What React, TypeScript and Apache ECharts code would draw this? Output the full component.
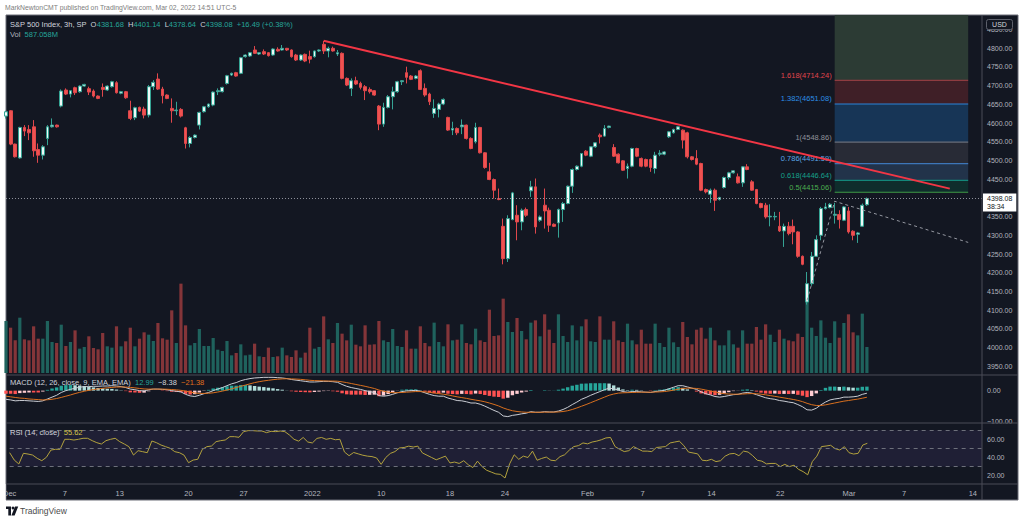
import React, { useEffect, useRef } from 'react';
import * as echarts from 'echarts';

// ---------- calendar ----------
const tradingDays = [
  '2021-12-01','2021-12-02','2021-12-03','2021-12-06','2021-12-07','2021-12-08','2021-12-09','2021-12-10',
  '2021-12-13','2021-12-14','2021-12-15','2021-12-16','2021-12-17','2021-12-20','2021-12-21','2021-12-22',
  '2021-12-23','2021-12-27','2021-12-28','2021-12-29','2021-12-30','2021-12-31',
  '2022-01-03','2022-01-04','2022-01-05','2022-01-06','2022-01-07','2022-01-10','2022-01-11','2022-01-12',
  '2022-01-13','2022-01-14','2022-01-18','2022-01-19','2022-01-20','2022-01-21','2022-01-24','2022-01-25',
  '2022-01-26','2022-01-27','2022-01-28','2022-01-31',
  '2022-02-01','2022-02-02','2022-02-03','2022-02-04','2022-02-07','2022-02-08','2022-02-09','2022-02-10',
  '2022-02-11','2022-02-14','2022-02-15','2022-02-16','2022-02-17','2022-02-18','2022-02-22','2022-02-23',
  '2022-02-24','2022-02-25','2022-02-28',
  '2022-03-01','2022-03-02','2022-03-03','2022-03-04','2022-03-07','2022-03-08','2022-03-09','2022-03-10',
  '2022-03-11','2022-03-14'
];
const sessions = ['09:30', '12:30', '15:30'];
const xTickDays = ['2021-12-01','2021-12-07','2021-12-13','2021-12-20','2021-12-27','2022-01-03','2022-01-10',
  '2022-01-18','2022-01-24','2022-02-01','2022-02-07','2022-02-14','2022-02-22','2022-03-01','2022-03-07','2022-03-14'];
const xTickLabels = ['Dec','7','13','20','27','2022','10','18','24','Feb','7','14','22','Mar','7','14'];

// ---------- price (3h bars) ----------
const opens = [
  4618.7,4633.0,4543.8,4507.0,4588.4,4583.0,4590.0,4529.5,4514.3,4559.0,
  4590.0,4594.6,4645.5,4688.4,4677.6,4694.6,4683.9,4699.0,4692.0,4685.7,
  4672.3,4695.5,4688.4,4697.3,4708.0,4679.8,4684.0,4633.0,4614.3,4642.0,
  4637.5,4621.4,4697.3,4717.8,4691.0,4675.0,4639.3,4633.0,4636.6,4587.5,
  4545.5,4561.6,4594.6,4630.3,4643.7,4648.2,4683.9,4683.9,4706.0,4728.5,
  4734.8,4733.0,4777.6,4779.4,4795.5,4784.7,4791.0,4788.3,4782.0,4797.3,
  4795.5,4799.9,4795.5,4782.0,4768.7,4783.8,4778.0,4777.6,4792.8,4810.6,
  4792.8,4799.9,4784.7,4786.5,4719.6,4692.8,4713.3,4706.2,4697.3,4690.0,
  4686.6,4645.5,4597.3,4642.0,4670.5,4683.9,4710.7,4734.8,4725.8,4719.6,
  4740.0,4692.8,4677.6,4625.9,4636.6,4650.9,4615.2,4581.3,4585.7,4590.0,
  4594.6,4559.0,4550.0,4588.4,4520.6,4469.7,4449.1,4398.3,4324.0,4237.6,
  4342.0,4353.6,4335.8,4368.8,4418.8,4429.5,4340.3,4380.4,4367.0,4329.5,
  4333.1,4368.8,4384.9,4431.3,4475.9,4484.8,4525.0,4511.6,4536.6,4567.8,
  4565.2,4588.4,4534.8,4517.0,4499.1,4478.6,4484.8,4532.1,4505.4,4502.7,
  4502.7,4478.6,4516.9,4517.0,4563.4,4574.0,4583.0,4581.2,4574.0,4509.8,
  4505.4,4492.0,4422.4,4409.9,4420.6,4395.6,4427.7,4454.5,4467.0,4456.3,
  4440.2,4483.0,4442.9,4422.4,4384.9,4380.4,4349.2,4349.2,4324.0,4311.7,
  4324.0,4324.0,4309.0,4243.9,4121.6,4170.7,4243.9,4300.0,4371.5,4374.2,
  4353.6,4355.4,4340.3,4365.2,4310.8,4302.8,4324.2,4381.68
];
const highs = [
  4633.0,4634.5,4545.0,4590.0,4594.6,4594.6,4608.0,4545.5,4541.0,4594.6,
  4612.5,4596.0,4690.0,4692.8,4688.4,4697.3,4701.0,4705.0,4697.3,4690.0,
  4674.0,4706.0,4701.0,4713.0,4712.0,4686.0,4686.0,4659.8,4643.7,4644.0,
  4643.7,4701.7,4715.0,4733.0,4697.0,4677.0,4666.0,4657.0,4640.0,4590.0,
  4565.0,4570.0,4630.3,4646.0,4652.0,4685.0,4692.8,4697.0,4729.0,4735.0,
  4737.0,4777.0,4784.0,4790.0,4806.0,4790.0,4797.0,4790.0,4800.0,4802.6,
  4808.8,4801.0,4797.0,4785.0,4784.0,4786.0,4793.7,4794.0,4797.0,4819.5,
  4804.4,4804.4,4795.5,4789.0,4722.0,4719.6,4724.0,4710.7,4701.7,4695.5,
  4688.0,4648.2,4654.4,4675.0,4697.3,4713.0,4715.0,4750.8,4728.5,4728.5,
  4743.7,4706.0,4681.2,4663.4,4654.4,4666.0,4617.0,4603.6,4588.4,4609.8,
  4596.0,4562.0,4600.9,4590.0,4522.0,4493.8,4451.8,4425.0,4344.7,4353.6,
  4416.0,4380.4,4371.5,4374.0,4445.6,4451.8,4353.0,4425.0,4374.0,4332.0,
  4371.5,4389.3,4433.0,4478.6,4487.0,4520.0,4527.7,4538.0,4549.0,4572.3,
  4594.6,4593.0,4543.7,4519.0,4501.0,4492.0,4534.0,4534.0,4508.0,4505.0,
  4505.0,4523.2,4527.7,4525.0,4579.0,4585.0,4592.0,4583.0,4576.8,4512.0,
  4527.7,4494.0,4425.0,4425.0,4425.0,4403.0,4457.0,4469.7,4474.0,4465.2,
  4484.8,4490.2,4447.4,4424.0,4387.0,4386.7,4383.0,4362.6,4362.6,4331.3,
  4335.8,4342.0,4311.0,4246.0,4201.9,4255.5,4300.0,4376.0,4386.7,4386.0,
  4386.7,4367.0,4378.0,4376.0,4313.5,4309.0,4384.9,4401.14
];
const lows = [
  4612.0,4541.0,4508.0,4505.0,4565.2,4554.5,4510.0,4493.8,4502.7,4541.0,
  4588.0,4588.0,4642.0,4675.0,4668.7,4675.0,4681.0,4697.0,4675.0,4668.7,
  4664.0,4670.5,4686.0,4695.0,4679.0,4677.0,4665.0,4608.0,4608.0,4630.0,
  4612.5,4615.2,4688.4,4688.4,4652.6,4664.0,4601.0,4621.4,4615.0,4532.0,
  4535.0,4559.0,4583.0,4628.0,4641.0,4645.0,4675.0,4682.0,4703.0,4726.0,
  4724.0,4731.0,4775.0,4777.0,4784.7,4782.0,4782.0,4778.0,4780.0,4791.0,
  4793.7,4793.0,4775.0,4766.0,4766.0,4763.0,4759.7,4775.0,4790.0,4784.7,
  4775.8,4791.0,4779.4,4717.0,4699.0,4672.3,4701.7,4690.0,4661.6,4679.0,
  4673.0,4581.0,4590.0,4639.3,4636.6,4681.0,4701.7,4706.0,4715.0,4717.0,
  4688.4,4670.5,4648.2,4614.0,4615.2,4648.0,4579.0,4567.9,4567.9,4570.5,
  4556.0,4530.0,4545.5,4518.8,4478.0,4447.4,4398.3,4393.8,4222.4,4228.7,
  4340.3,4286.7,4313.5,4349.2,4402.7,4304.5,4336.0,4318.0,4309.0,4322.0,
  4293.8,4335.8,4383.0,4413.4,4473.0,4482.0,4511.6,4509.0,4534.0,4545.5,
  4563.4,4586.0,4509.8,4492.0,4472.0,4451.8,4482.0,4509.0,4482.0,4482.0,
  4469.7,4465.2,4511.6,4514.0,4560.0,4572.0,4581.0,4532.0,4505.4,4500.0,
  4487.5,4418.0,4412.0,4386.7,4365.2,4393.0,4425.0,4449.0,4465.0,4438.4,
  4429.5,4474.0,4418.8,4383.0,4372.0,4344.7,4324.0,4340.3,4309.0,4268.9,
  4300.0,4276.0,4240.0,4220.0,4114.7,4165.0,4242.0,4286.7,4368.8,4372.0,
  4331.3,4318.0,4338.0,4304.6,4286.7,4279.6,4322.4,4378.64
];
const closes = [
  4630.3,4543.8,4510.0,4588.4,4578.6,4574.0,4526.0,4514.3,4536.6,4590.0,
  4594.6,4590.0,4685.7,4677.6,4686.6,4681.2,4699.0,4703.5,4683.0,4672.3,
  4666.0,4690.0,4699.0,4710.7,4681.2,4684.0,4667.8,4612.5,4641.0,4632.0,
  4621.4,4697.3,4709.0,4691.0,4673.2,4666.0,4633.0,4635.0,4618.7,4545.5,
  4561.6,4567.9,4628.6,4643.7,4651.0,4683.0,4686.6,4695.5,4726.7,4733.0,
  4725.8,4774.9,4782.0,4788.3,4786.5,4788.3,4784.7,4780.3,4798.1,4792.8,
  4799.9,4795.5,4777.6,4768.7,4782.0,4766.0,4771.0,4792.8,4795.5,4792.8,
  4799.9,4792.8,4788.3,4719.6,4701.7,4713.3,4704.4,4695.5,4686.6,4683.9,
  4675.0,4597.3,4642.0,4670.5,4683.9,4710.7,4713.3,4722.3,4717.0,4725.8,
  4690.0,4675.0,4657.1,4639.3,4650.9,4663.4,4581.3,4585.7,4574.0,4594.6,
  4559.0,4532.2,4588.4,4520.6,4481.3,4449.1,4420.6,4395.6,4237.6,4344.7,
  4413.4,4335.8,4367.0,4353.6,4429.5,4322.4,4349.2,4365.2,4326.9,4324.0,
  4368.8,4384.9,4431.3,4475.9,4484.8,4518.8,4514.3,4536.6,4547.3,4563.4,
  4585.7,4592.0,4511.6,4493.8,4474.0,4484.8,4532.1,4511.6,4484.8,4484.8,
  4481.3,4514.3,4519.6,4523.0,4576.8,4583.0,4590.0,4554.5,4509.8,4502.7,
  4490.2,4420.6,4416.0,4420.6,4393.8,4401.0,4454.5,4467.0,4472.3,4440.2,
  4483.0,4475.9,4420.6,4384.9,4374.2,4349.2,4351.0,4350.5,4311.7,4324.0,
  4304.5,4309.0,4243.9,4222.4,4170.7,4243.9,4288.5,4371.5,4376.0,4383.0,
  4356.3,4342.0,4376.0,4309.0,4300.0,4306.3,4380.4,4398.08
];
// volume, millions
const volumes = [
  1175,1024,738,1250,761,738,1055,776,776,1175,
  701,678,1092,610,701,964,550,588,829,565,
  535,904,603,573,1055,603,716,1024,603,776,
  919,866,723,1130,784,753,1416,678,2019,1077,
  625,678,994,610,610,791,527,497,723,399,
  452,648,399,414,663,377,362,573,362,377,
  573,399,362,512,347,460,1024,550,588,1280,
  761,678,1130,889,738,1092,640,603,1077,640,
  648,1175,738,701,994,610,588,964,550,550,
  1055,678,603,1138,701,603,1100,738,753,1100,
  678,648,1002,738,701,1431,836,851,1680,1153,
  927,1243,949,761,1138,1190,829,1326,979,678,
  1326,836,701,1077,738,1055,1213,716,701,1280,
  753,753,1168,738,701,1115,738,648,979,663,
  663,1115,678,588,1024,693,588,1153,814,648,
  979,1024,776,1024,738,625,625,964,648,573,
  964,663,663,1040,753,1100,866,701,979,776,
  738,716,889,814,1605,1024,836,1190,798,678,
  1168,798,1130,1326,919,851,1341,587.058
];

// ---------- MACD (12, 26, 9) ----------
const macdLine = [
  -28,-30,-33,-32,-32,-33,-34,-35,-33,-27,
  -21,-15,-6,0,4,8,11,13,13,14,
  14,15,15,16,15,13,10,5,3,0,
  -1,3,5,5,4,3,0,-2,-4,-12,
  -17,-19,-15,-10,-6,0,5,10,16,22,
  26,32,36,39,41,42,43,43,43,42,
  41,39,36,34,32,30,28,28,29,30,
  30,29,27,20,14,10,7,4,0,-3,
  -6,-16,-18,-16,-12,-7,-3,-1,0,1,
  -2,-7,-12,-16,-18,-18,-24,-28,-32,-33,
  -36,-40,-40,-44,-50,-57,-64,-70,-82,-84,
  -80,-78,-75,-73,-68,-70,-70,-68,-69,-69,
  -66,-61,-54,-45,-37,-28,-22,-15,-9,-3,
  3,8,6,2,-3,-5,-3,-3,-4,-5,
  -6,-3,-1,1,6,11,16,16,12,8,
  4,-4,-10,-14,-19,-21,-19,-16,-13,-12,
  -8,-6,-8,-13,-18,-23,-26,-28,-32,-34,
  -37,-39,-45,-52,-62,-63,-57,-46,-37,-30,
  -27,-25,-21,-21,-20,-18,-12,-8.38
];
const signalLine = [
  -18,-20,-22,-24,-25,-27,-28,-29,-30,-29.5,
  -28,-25.5,-22,-18,-14,-9.5,-5.5,-2,1,3.5,
  5.5,7.5,9,10.5,11.5,12,11.5,10.5,9,7,
  5.5,5,5,5,5,4.5,3.5,2.5,1,-1.5,
  -4.5,-7.5,-9,-9,-8.5,-7,-4.5,-1.5,2,6,
  10,14,18,22,26,29,31.5,33.5,35.5,37,
  38,38.5,38,37.5,36.5,35,33.5,32.5,32,31.5,
  31,31,30.5,28.5,26,23,20,17,14,10.5,
  7,2,-2,-5,-6.5,-6.5,-6,-5,-4,-3,
  -3,-4,-5.5,-7.5,-9.5,-11.5,-14,-17,-20,-22.5,
  -25,-28,-30.5,-33,-36,-40,-44.5,-49.5,-56,-61,
  -65,-67.5,-69,-70,-70,-70,-70,-69.5,-69.5,-69.5,
  -69,-67.5,-65,-61,-56,-50.5,-45,-39,-33,-27,
  -21,-15,-11,-8,-7,-6.5,-6,-5.5,-5,-5,
  -5,-4.5,-4,-3,-1,1.5,4.5,7,8,8,
  7,5,2,-1,-4.5,-7.5,-10,-11,-11.5,-11.5,
  -11,-10,-9.5,-10,-11.5,-13.5,-16,-18.5,-21,-23.5,
  -26,-28.5,-31.5,-35.5,-41,-45.5,-48,-48,-46,-43,
  -40,-37,-34,-32,-29.5,-27.5,-24.5,-21.38
];

// ---------- RSI (14) ----------
const rsiValues = [
  45.3,37.2,32.9,44.6,43.8,42.7,39.1,36.5,40.2,48.2,
  49.0,49.0,60.0,60.0,59.2,60.0,61.1,61.1,58.5,56.3,
  54.8,58.5,60.0,61.1,57.4,54.8,51.9,42.7,47.5,46.4,
  45.3,58.1,56.3,53.7,51.9,50.1,46.4,45.3,42.7,34.3,
  37.2,38.0,48.9,51.9,52.6,57.4,58.5,59.2,62.9,62.9,
  62.2,68.4,69.5,69.5,69.1,69.1,67.3,68.8,68.4,69.1,
  68.4,64.7,60.0,58.0,62.0,57.0,56.0,61.0,62.0,60.0,
  61.0,59.5,60.0,46.0,42.0,45.5,44.0,42.5,41.5,41.0,
  39.5,32.5,40.0,44.5,46.5,50.5,51.0,52.5,51.5,52.5,
  45.0,42.5,40.0,37.5,39.5,41.5,34.0,35.0,33.5,36.5,
  32.0,29.0,36.0,30.0,26.0,24.0,22.0,21.5,17.5,33.0,
  43.0,38.0,41.5,40.0,47.0,37.0,39.0,40.5,37.0,36.5,
  41.0,43.0,48.0,52.0,53.0,56.0,55.0,57.0,58.0,59.5,
  61.5,62.0,52.0,49.0,46.5,47.5,52.0,49.5,47.0,47.0,
  46.5,51.0,51.5,52.0,56.0,57.0,58.0,53.0,46.0,45.0,
  44.0,37.0,36.5,38.0,35.5,36.5,41.5,44.0,44.5,42.0,
  47.0,46.0,42.0,37.0,36.0,33.0,33.5,33.5,30.0,32.5,
  30.0,31.5,27.0,24.5,21.0,35.5,41.5,52.0,52.6,53.4,
  49.7,48.2,51.9,45.3,43.8,44.6,53.7,55.62
];

// ---------- axis ticks ----------
const priceTicks = [3950,4000,4050,4100,4150,4200,4250,4300,4350,4400,4450,4500,4550,4600,4650,4700,4750,4800,4850];
const macdTicks = [0, -100];
const rsiTicks = [20, 40, 60];

// ---------- drawings ----------
const fibLevels = ['0.5', '0.618', '0.786', '1', '1.382', '1.618'];
const fibPrices = [4415.06, 4446.64, 4491.59, 4548.86, 4651.08, 4714.24];
const fibTopPrice = 4981.8; // 2.618, off the top of the pane
const fibStartBar = 180;
const fibEndBar = 209;
const trendLine = [[69, 4820], [205, 4424.8]];
const projectionPath = [[174, 4126], [180, 4391], [209, 4281]];
const lastPrice = 4398.08;

const FONT = 'Liberation Sans, Arial, sans-serif';
const BG = '#131722';
const AXIS_TXT = '#b2b5be';
const SEP = '#4a4d57';
const LEG = 7.5;

function buildOption() {
  const categories = tradingDays.flatMap((d) => sessions.map((s) => `${d} ${s}`));
  const tickMap = new Map<number, string>();
  xTickDays.forEach((d, k) => {
    const di = tradingDays.indexOf(d);
    if (di >= 0) tickMap.set(di * sessions.length, xTickLabels[k]);
  });

  const candles = opens.map((o, i) => [o, closes[i], lows[i], highs[i]]);
  const volData = volumes.map((v, i) => ({
    value: v,
    itemStyle: { color: closes[i] >= opens[i] ? '#1f625d' : '#843539' },
  }));
  const hist = macdLine.map((m, i) => m - signalLine[i]);
  const histData = hist.map((h, i) => {
    const prev = i > 0 ? hist[i - 1] : h;
    let c;
    if (h >= 0) c = h >= prev ? '#26a69a' : '#b2dfdb';
    else c = h <= prev ? '#ff5252' : '#ffcdd2';
    return { value: h, itemStyle: { color: c } };
  });

  const fibFill = ['#0f2d2c', '#22334a', '#282b36', '#173556', '#3f1f27', '#2c3b34'];
  const fibLine = ['#3f9a46', '#13877a', '#3d76b8', '#6b6e78', '#2a83d8', '#8e3b40'];
  const fibLabelColor = ['#4caf50', '#16a08c', '#5aa6e6', '#8f929b', '#2d8fe6', '#e0454c'];
  const fibData = fibPrices.map((p, i) => [fibStartBar, fibEndBar, p, i < fibPrices.length - 1 ? fibPrices[i + 1] : fibTopPrice]);

  const xAxis = (gridIndex: number, labels: boolean) => ({
    type: 'category',
    gridIndex,
    data: categories,
    boundaryGap: false,
    axisLine: { show: false },
    axisTick: { show: false },
    splitLine: { show: false },
    axisPointer: { show: false },
    axisLabel: labels
      ? {
          show: true,
          interval: (idx: number) => tickMap.has(idx),
          formatter: (_v: string, idx: number) => tickMap.get(idx) ?? '',
          color: AXIS_TXT,
          fontSize: 7.5,
          fontFamily: FONT,
          margin: 5,
        }
      : { show: false },
  });

  const fmt = (v: number) => v.toFixed(2).replace('-', '\u2212');
  const yAxisBase = (gridIndex: number, min: number, max: number, ticks: number[] | null) => ({
    type: 'value',
    gridIndex,
    position: 'right',
    min,
    max,
    axisLine: { show: false },
    axisTick: { show: false },
    splitLine: { show: false },
    axisLabel: ticks
      ? { show: true, customValues: ticks, formatter: fmt, color: AXIS_TXT, fontSize: 7, fontFamily: FONT, margin: 5 }
      : { show: false },
  });

  const txt = (x: number, y: number, text: string, fill: string, size = 7, extra: any = {}) => ({
    type: 'text',
    x,
    y,
    z: 60,
    silent: true,
    style: { text, fill, fontSize: size, fontFamily: FONT, verticalAlign: 'middle', ...extra },
  });

  const hline = (y: number, x1: number, x2: number, color = SEP) => ({
    type: 'line',
    z: 61,
    silent: true,
    shape: { x1, y1: y, x2, y2: y },
    style: { stroke: color, lineWidth: 1 },
  });

  const rich = (s: any) => ({ fill: s, fontSize: LEG, fontFamily: FONT });

  return {
    animation: false,
    backgroundColor: '#ffffff',
    textStyle: { fontFamily: FONT },
    grid: [
      { left: 6, right: 42, top: 15, height: 360 },
      { left: 6, right: 42, top: 15, height: 358 },
      { left: 6, right: 42, top: 375, height: 48 },
      { left: 6, right: 42, top: 423, height: 61 },
    ],
    xAxis: [xAxis(0, false), xAxis(1, false), xAxis(2, false), xAxis(3, true)],
    yAxis: [
      yAxisBase(0, 3926.5, 4889, priceTicks),
      yAxisBase(1, 0, 8090, null),
      yAxisBase(2, -104.7, 50.6, macdTicks),
      yAxisBase(3, 10.9, 77.9, rsiTicks),
    ],
    series: [
      {
        type: 'bar',
        name: 'Volume',
        xAxisIndex: 1,
        yAxisIndex: 1,
        data: volData,
        barWidth: 3.2,
        z: 1,
        silent: true,
      },
      {
        type: 'custom',
        name: 'Fib',
        xAxisIndex: 0,
        yAxisIndex: 0,
        data: fibData,
        clip: true,
        z: 2,
        silent: true,
        renderItem: (params: any, api: any) => {
          const i = params.dataIndex;
          const a = api.coord([api.value(0), api.value(2)]);
          const b = api.coord([api.value(1), api.value(3)]);
          return {
            type: 'group',
            children: [
              { type: 'rect', shape: { x: a[0], y: b[1], width: b[0] - a[0], height: a[1] - b[1] }, style: { fill: fibFill[i] } },
              { type: 'line', shape: { x1: a[0], y1: a[1], x2: b[0], y2: a[1] }, style: { stroke: fibLine[i], lineWidth: 1.2 } },
              {
                type: 'text',
                x: a[0] - 3,
                y: a[1] - 1,
                style: {
                  text: `${fibLevels[i]}(${fibPrices[i].toFixed(2)})`,
                  fill: fibLabelColor[i],
                  fontSize: 7.5,
                  fontFamily: FONT,
                  align: 'right',
                  verticalAlign: 'bottom',
                },
              },
            ],
          };
        },
      },
      {
        type: 'candlestick',
        name: 'S&P 500',
        xAxisIndex: 0,
        yAxisIndex: 0,
        data: candles,
        barWidth: 3.3,
        clip: true,
        z: 3,
        itemStyle: {
          color: '#eef9f7',
          color0: '#ef5350',
          borderColor: '#35a394',
          borderColor0: '#e0474c',
          borderWidth: 1,
        },
        markLine: {
          silent: true,
          symbol: ['none', 'none'],
          lineStyle: { type: [1, 2], color: '#8d909a', width: 1 },
          label: {
            show: true,
            position: 'end',
            distance: 1,
            offset: [0, 4],
            formatter: `${lastPrice.toFixed(2)}\n38:34`,
            backgroundColor: '#ffffff',
            color: '#131722',
            fontSize: 7,
            lineHeight: 8,
            fontFamily: FONT,
            padding: [1, 4, 1, 4],
          },
          data: [{ yAxis: lastPrice }],
        },
      },
      {
        type: 'line',
        name: 'Trend',
        xAxisIndex: 0,
        yAxisIndex: 0,
        data: trendLine,
        showSymbol: false,
        symbol: 'none',
        z: 5,
        silent: true,
        lineStyle: { color: '#f23645', width: 2 },
      },
      {
        type: 'line',
        name: 'Projection',
        xAxisIndex: 0,
        yAxisIndex: 0,
        data: projectionPath,
        showSymbol: false,
        symbol: 'none',
        z: 4,
        silent: true,
        lineStyle: { color: '#9598a1', width: 1, type: [3, 3] },
      },
      {
        type: 'bar',
        name: 'Histogram',
        xAxisIndex: 2,
        yAxisIndex: 2,
        data: histData,
        barWidth: 3.4,
        z: 2,
        silent: true,
      },
      {
        type: 'line',
        name: 'MACD',
        xAxisIndex: 2,
        yAxisIndex: 2,
        data: macdLine,
        showSymbol: false,
        symbol: 'none',
        z: 3,
        silent: true,
        lineStyle: { color: '#c9ccd3', width: 1 },
      },
      {
        type: 'line',
        name: 'Signal',
        xAxisIndex: 2,
        yAxisIndex: 2,
        data: signalLine,
        showSymbol: false,
        symbol: 'none',
        z: 3,
        silent: true,
        lineStyle: { color: '#d9701f', width: 1 },
      },
      {
        type: 'line',
        name: 'RSI',
        xAxisIndex: 3,
        yAxisIndex: 3,
        data: rsiValues,
        showSymbol: false,
        symbol: 'none',
        z: 3,
        silent: true,
        lineStyle: { color: '#b3a23e', width: 1 },
        markArea: {
          silent: true,
          itemStyle: { color: 'rgba(126, 87, 194, 0.12)' },
          data: [[{ yAxis: 30 }, { yAxis: 70 }]],
        },
        markLine: {
          silent: true,
          symbol: ['none', 'none'],
          label: { show: false },
          lineStyle: { color: '#6d707b', width: 1, type: [4, 4] },
          data: [{ yAxis: 70 }, { yAxis: 50 }, { yAxis: 30 }],
        },
      },
    ],
    graphic: [
      { type: 'rect', z: -10, silent: true, shape: { x: 6, y: 15, width: 1012, height: 485 }, style: { fill: BG, stroke: '#6a6d77', lineWidth: 1 } },
      txt(5, 7.5, 'MarkNewtonCMT published on TradingView.com, Mar 02, 2022 14:51 UTC-5', '#7d7d7d', 6.8),
      {
        type: 'text',
        x: 10,
        y: 24.3,
        z: 60,
        silent: true,
        style: {
          text:
            '{w|S&P 500 Index, 3h, SP  O}{t|4381.68}{w|  H}{t|4401.14}{w|  L}{t|4378.64}{w|  C}{t|4398.08}{t|  +16.49 (+0.38%)}',
          rich: { w: rich('#d1d4dc'), t: rich('#26a69a') },
          verticalAlign: 'middle',
          fontSize: LEG,
          fontFamily: FONT,
        },
      },
      {
        type: 'text',
        x: 10,
        y: 34,
        z: 60,
        silent: true,
        style: { text: '{w|Vol}{t|  587.058M}', rich: { w: rich('#b2b5be'), t: rich('#26a69a') }, verticalAlign: 'middle', fontSize: LEG, fontFamily: FONT },
      },
      {
        type: 'text',
        x: 10,
        y: 382.3,
        z: 60,
        silent: true,
        style: {
          text: '{w|MACD (12, 26, close, 9, EMA, EMA)}{t|  12.99}{w|  \u22128.38}{o|  \u221221.38}',
          rich: { w: rich('#d1d4dc'), t: rich('#26a69a'), o: rich('#e0701e') },
          verticalAlign: 'middle',
          fontSize: LEG,
          fontFamily: FONT,
        },
      },
      {
        type: 'text',
        x: 10,
        y: 432.3,
        z: 60,
        silent: true,
        style: {
          text: '{w|RSI (14, close)}{y|  55.62}',
          rich: { w: rich('#d1d4dc'), y: rich('#d4c145') },
          verticalAlign: 'middle',
          fontSize: LEG,
          fontFamily: FONT,
        },
      },
      // USD box
      { type: 'rect', z: 60, silent: true, shape: { x: 986.5, y: 19.5, width: 26, height: 10, r: 2 }, style: { fill: BG, stroke: '#5d606b', lineWidth: 1 } },
      txt(999.5, 24.5, 'USD', '#d1d4dc', 7, { align: 'center' }),
      // hide lower half of the -100 label
      { type: 'rect', z: 59, silent: true, shape: { x: 983, y: 423.5, width: 34, height: 5 }, style: { fill: BG } },
      // clip date label at the left edge
      { type: 'rect', z: 59, silent: true, shape: { x: 0, y: 484, width: 5.5, height: 16 }, style: { fill: '#ffffff' } },
      // separators
      hline(375, 6, 1018),
      hline(423, 6, 1018),
      hline(484, 6, 1018),
      { type: 'line', z: 61, silent: true, shape: { x1: 982, y1: 15, x2: 982, y2: 500 }, style: { stroke: SEP, lineWidth: 1 } },
      // TradingView logo
      { type: 'polygon', z: 60, silent: true, shape: { points: [[6, 506.5], [11, 506.5], [11, 515.5], [8.3, 515.5], [8.3, 509], [6, 509]] }, style: { fill: '#131722' } },
      { type: 'circle', z: 60, silent: true, shape: { cx: 13, cy: 508, r: 1.4 }, style: { fill: '#131722' } },
      { type: 'polygon', z: 60, silent: true, shape: { points: [[15, 506.5], [18.2, 506.5], [14.6, 515.5], [11.4, 515.5]] }, style: { fill: '#131722' } },
      txt(20, 511.2, 'TradingView', '#4a4a4a', 8.5),
    ],
  };
}

export default function App() {
  const ref = useRef<HTMLDivElement>(null);
  useEffect(() => {
    if (!ref.current) return;
    const chart = echarts.init(ref.current, undefined, { renderer: 'svg' });
    chart.setOption(buildOption() as any);
    return () => {
      chart.dispose();
    };
  }, []);
  return (
    <div style={{ position: 'fixed', left: 0, top: 0, width: 1024, height: 521, background: '#ffffff', overflow: 'hidden' }}>
      <div ref={ref} style={{ width: 1024, height: 521 }} />
    </div>
  );
}
